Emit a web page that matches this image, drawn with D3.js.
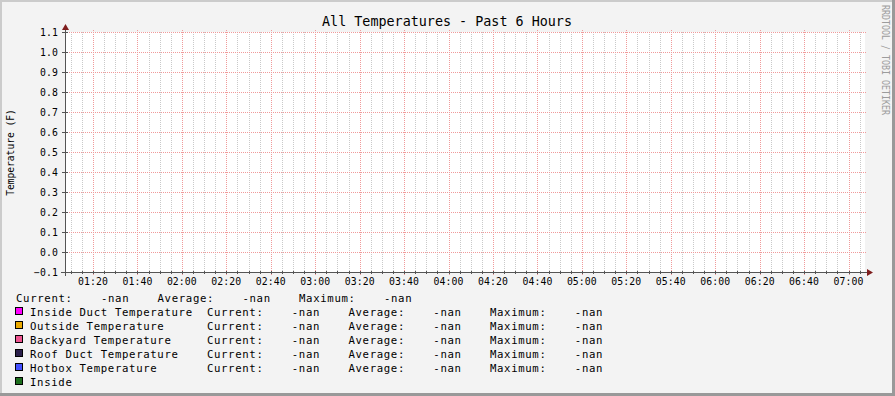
<!DOCTYPE html>
<html>
<head>
<meta charset="utf-8">
<script src="https://cdn.jsdelivr.net/npm/d3@7"></script>
<style>
  body { margin: 0; background: #f3f3f3; }
  text { font-family: "DejaVu Sans Mono", monospace; }
</style>
</head>
<body>
<script>
'use strict';

// chart texts
const title = "All Temperatures - Past 6 Hours";
const yLabel = "Temperature (F)";
const watermark = "RRDTOOL / TOBI OETIKER";

// time window (6 hours) and y ticks
const timeStart = new Date(2020, 0, 1, 1, 7, 24);
const timeEnd = new Date(2020, 0, 1, 7, 7, 24);
const yTicks = [-0.1, 0.0, 0.1, 0.2, 0.3, 0.4, 0.5, 0.6, 0.7, 0.8, 0.9, 1.0, 1.1];

// series (no data in the window, every value unknown)
const seriesNames = ["Inside Duct Temperature", "Outside Temperature", "Backyard Temperature",
  "Roof Duct Temperature", "Hotbox Temperature", "Inside"];
const seriesColors = ["#ff00ff", "#eaa900", "#ee5590", "#2b1f4b", "#4450ff", "#1d6e1d"];
const seriesHasStats = [true, true, true, true, true, false];
const seriesCurrent = [NaN, NaN, NaN, NaN, NaN, NaN];
const seriesAverage = [NaN, NaN, NaN, NaN, NaN, NaN];
const seriesMaximum = [NaN, NaN, NaN, NaN, NaN, NaN];
const seriesPoints = [[], [], [], [], [], []];
const totalStats = [NaN, NaN, NaN]; // current, average, maximum

const width = 895, height = 396;
const plot = { left: 65, right: 865, top: 32, bottom: 272 };

const svg = d3.select('body').append('svg')
  .attr('width', width)
  .attr('height', height);

// background + 3d frame
svg.append('rect').attr('width', width).attr('height', height).attr('fill', '#f3f3f3');
svg.append('rect').attr('x', 0).attr('y', 0).attr('width', width).attr('height', 2).attr('fill', '#cbcbcb');
svg.append('rect').attr('x', 0).attr('y', 0).attr('width', 2).attr('height', height).attr('fill', '#cbcbcb');
svg.append('rect').attr('x', 0).attr('y', height - 3).attr('width', width).attr('height', 3).attr('fill', '#999');
svg.append('rect').attr('x', width - 3).attr('y', 0).attr('width', 3).attr('height', height).attr('fill', '#999');

// canvas
svg.append('rect')
  .attr('x', plot.left).attr('y', plot.top)
  .attr('width', plot.right - plot.left).attr('height', plot.bottom - plot.top)
  .attr('fill', '#fff');

const xScale = d3.scaleTime().domain([timeStart, timeEnd]).range([plot.left, plot.right]);
const yScale = d3.scaleLinear().domain([yTicks[0], yTicks[yTicks.length - 1]]).range([plot.bottom, plot.top]);

const minorTicks = xScale.ticks(d3.timeMinute.every(5));
const majorTicks = xScale.ticks(d3.timeMinute.every(20));
const fmtTime = d3.timeFormat('%H:%M');

const grid = svg.append('g').attr('shape-rendering', 'crispEdges');

// minor vertical grid
grid.selectAll('.minor')
  .data(minorTicks.filter(t => t.getMinutes() % 20 !== 0))
  .enter().append('line')
  .attr('x1', d => Math.round(xScale(d)) + 0.5).attr('x2', d => Math.round(xScale(d)) + 0.5)
  .attr('y1', plot.top).attr('y2', plot.bottom)
  .attr('stroke', '#c9c9c9').attr('stroke-dasharray', '1,1');

// major vertical grid
grid.selectAll('.majorx')
  .data(majorTicks)
  .enter().append('line')
  .attr('x1', d => Math.round(xScale(d)) + 0.5).attr('x2', d => Math.round(xScale(d)) + 0.5)
  .attr('y1', plot.top - 2).attr('y2', plot.bottom + 3)
  .attr('stroke', '#f09a9a').attr('stroke-dasharray', '1,1');

// major horizontal grid
grid.selectAll('.majory')
  .data(yTicks)
  .enter().append('line')
  .attr('x1', plot.left).attr('x2', plot.right + 2)
  .attr('y1', d => Math.round(yScale(d)) + 0.5).attr('y2', d => Math.round(yScale(d)) + 0.5)
  .attr('stroke', '#f09a9a').attr('stroke-dasharray', '1,1');

// series lines (all values unknown -> nothing drawn)
const line = d3.line()
  .defined(d => d.v != null && !isNaN(d.v))
  .x(d => xScale(d.t))
  .y(d => yScale(d.v));
svg.append('g').selectAll('path')
  .data(seriesPoints)
  .enter().append('path')
  .attr('d', d => line(d))
  .attr('fill', 'none')
  .attr('stroke', (d, i) => seriesColors[i]);

// axes
const axisColor = '#555';
const axes = svg.append('g').attr('shape-rendering', 'crispEdges');
axes.append('line')
  .attr('x1', plot.left - 4).attr('x2', plot.right + 3)
  .attr('y1', plot.bottom + 0.5).attr('y2', plot.bottom + 0.5)
  .attr('stroke', axisColor);
axes.append('line')
  .attr('x1', plot.left + 0.5).attr('x2', plot.left + 0.5)
  .attr('y1', plot.bottom + 4).attr('y2', plot.top - 4)
  .attr('stroke', axisColor);

// tick marks
axes.selectAll('.ytick')
  .data(yTicks)
  .enter().append('line')
  .attr('x1', plot.left - 3).attr('x2', plot.left + 3)
  .attr('y1', d => Math.round(yScale(d)) + 0.5).attr('y2', d => Math.round(yScale(d)) + 0.5)
  .attr('stroke', axisColor);
axes.selectAll('.xminor')
  .data(minorTicks)
  .enter().append('line')
  .attr('x1', d => Math.round(xScale(d)) + 0.5).attr('x2', d => Math.round(xScale(d)) + 0.5)
  .attr('y1', plot.bottom - 1).attr('y2', plot.bottom + 2)
  .attr('stroke', axisColor);

// arrows
svg.append('path')
  .attr('d', `M${plot.right + 2},${plot.bottom - 3} L${plot.right + 8},${plot.bottom + 0.5} L${plot.right + 2},${plot.bottom + 4} Z`)
  .attr('fill', '#7f1d1d');
svg.append('path')
  .attr('d', `M${plot.left - 3},${plot.top - 2} L${plot.left + 0.5},${plot.top - 8} L${plot.left + 4},${plot.top - 2} Z`)
  .attr('fill', '#7f1d1d');

// tick labels
svg.append('g').selectAll('text')
  .data(majorTicks)
  .enter().append('text')
  .attr('x', d => xScale(d))
  .attr('y', 285)
  .attr('text-anchor', 'middle')
  .style('font-size', '9.8px')
  .style('letter-spacing', '0.1px')
  .text(d => fmtTime(d));

svg.append('g').selectAll('text')
  .data(yTicks)
  .enter().append('text')
  .attr('x', 58)
  .attr('y', d => yScale(d) + 3.8)
  .attr('text-anchor', 'end')
  .style('font-size', '9.8px')
  .style('letter-spacing', '0.1px')
  .text(d => d3.format('.1f')(d));

// title
svg.append('text')
  .attr('x', 447)
  .attr('y', 26)
  .attr('text-anchor', 'middle')
  .style('font-size', '13.4px')
  .text(title);

// vertical label
svg.append('text')
  .attr('transform', 'translate(14, 152.5) rotate(-90)')
  .attr('text-anchor', 'middle')
  .style('font-size', '9.6px')
  .text(yLabel);

// watermark
svg.append('text')
  .attr('transform', 'translate(882, 5) rotate(90)')
  .attr('fill', '#9c9c9c')
  .style('font-size', '10px')
  .attr('textLength', 110)
  .attr('lengthAdjust', 'spacingAndGlyphs')
  .text(watermark);

// legend
function fmt(v) {
  return isNaN(v) ? '-nan'.padStart(8) : v.toFixed(2).padStart(8);
}
function stats(c, a, m) {
  return 'Current:' + fmt(c) + '    Average:' + fmt(a) + '    Maximum:' + fmt(m);
}
// keep runs of spaces (monospace columns)
function keepSpaces(s) {
  return s.replace(/ /g, '\u00a0');
}

const legend = svg.append('g')
  .style('font-size', '10.67px')
  .style('letter-spacing', '0.66px');

legend.append('text')
  .attr('x', 16)
  .attr('y', 301.5)
  .text(keepSpaces(stats(totalStats[0], totalStats[1], totalStats[2])));

const rows = legend.selectAll('.row')
  .data(seriesNames)
  .enter().append('g')
  .attr('transform', (d, i) => `translate(0, ${315.5 + i * 14})`);

rows.append('rect')
  .attr('x', 15.5).attr('y', -8.5)
  .attr('width', 7).attr('height', 7)
  .attr('fill', (d, i) => seriesColors[i])
  .attr('stroke', '#000')
  .attr('shape-rendering', 'crispEdges');

rows.append('text')
  .attr('x', 30)
  .attr('y', 0)
  .text((d, i) => keepSpaces(seriesHasStats[i]
    ? d.padEnd(25) + stats(seriesCurrent[i], seriesAverage[i], seriesMaximum[i])
    : d));
</script>
</body>
</html>
